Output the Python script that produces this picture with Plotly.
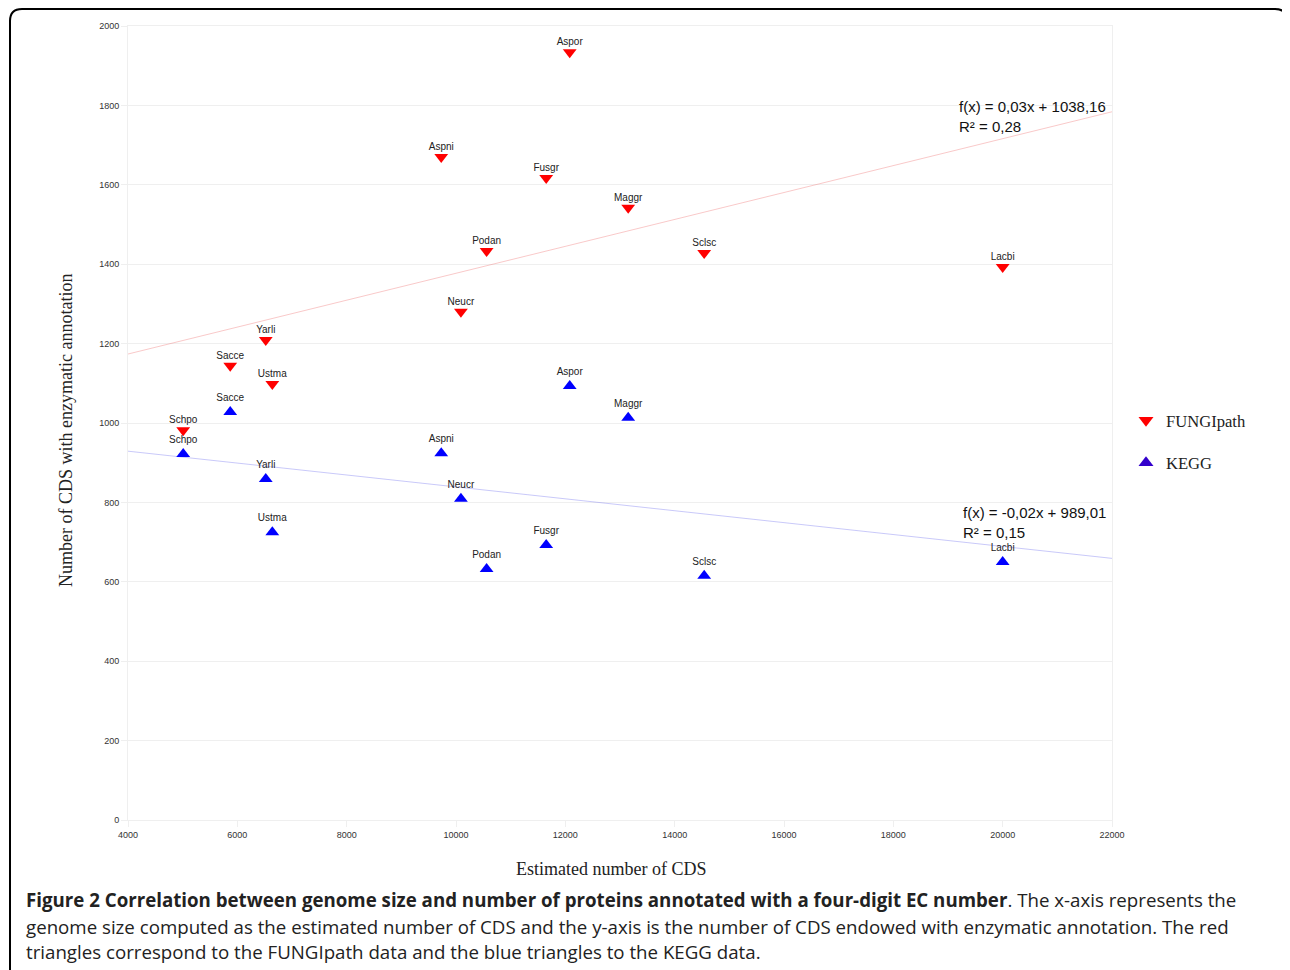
import plotly.graph_objects as go

# ---- data ----
species = ["Schpo", "Sacce", "Yarli", "Ustma", "Aspni", "Neucr",
           "Podan", "Fusgr", "Aspor", "Maggr", "Sclsc", "Lacbi"]
cds = [5010, 5870, 6520, 6640, 9730, 10090, 10560, 11650, 12080, 13150, 14540, 20000]
fungipath = [982, 1144, 1209, 1098, 1670, 1280, 1433, 1617, 1934, 1542, 1428, 1393]
kegg = [922, 1028, 859, 725, 924, 809, 632, 693, 1093, 1013, 615, 650]

fungipath_fit = [0.0339, 1038.16]   # slope, intercept
kegg_fit = [-0.0150, 989.01]
fit_x = [4000, 22000]

x_ticks = [4000, 6000, 8000, 10000, 12000, 14000, 16000, 18000, 20000, 22000]
y_ticks = [0, 200, 400, 600, 800, 1000, 1200, 1400, 1600, 1800, 2000]

eq_fungipath = "f(x) = 0,03x + 1038,16<br>R² = 0,28"
eq_kegg = "f(x) = -0,02x + 989,01<br>R² = 0,15"

caption_lines = [
    "<b>Figure 2 Correlation between genome size and number of proteins annotated with a four-digit EC number</b>. The x-axis represents the",
    "genome size computed as the estimated number of CDS and the y-axis is the number of CDS endowed with enzymatic annotation. The red",
    "triangles correspond to the FUNGIpath data and the blue triangles to the KEGG data.",
]

# ---- figure geometry (screen pixels; page has an 8px body margin) ----
OFF = 8
W, H = 1290 - OFF, 970 - OFF
L, T = 128 - OFF, 26 - OFF
R = W - (1112 - OFF)
B = H - (820 - OFF)
pw, ph = W - L - R, H - T - B


def px_x(p):
    return (p - OFF - L) / pw


def px_y(p):
    return (H - B - (p - OFF)) / ph


fig = go.Figure()

# trend lines
fig.add_trace(go.Scatter(
    x=fit_x, y=[fungipath_fit[0] * v + fungipath_fit[1] for v in fit_x],
    mode="lines", line=dict(color="rgba(240,120,120,0.4)", width=1),
    showlegend=False, hoverinfo="skip"))
fig.add_trace(go.Scatter(
    x=fit_x, y=[kegg_fit[0] * v + kegg_fit[1] for v in fit_x],
    mode="lines", line=dict(color="rgba(120,120,240,0.4)", width=1),
    showlegend=False, hoverinfo="skip"))

label_font = dict(family="Liberation Sans, Arial", size=10, color="#222")

# FUNGIpath labels (placed via an invisible small marker) + markers
fig.add_trace(go.Scatter(
    x=cds, y=fungipath, mode="markers+text", text=species,
    textposition="top center", textfont=label_font,
    marker=dict(size=6, opacity=0, color="#ff0000"),
    showlegend=False, hoverinfo="skip"))
fig.add_trace(go.Scatter(
    x=cds, y=fungipath, mode="markers",
    marker=dict(symbol="triangle-down", size=12, color="#ff0000"),
    showlegend=False))
fig.add_trace(go.Scatter(
    x=cds, y=kegg, mode="markers+text", text=species,
    textposition="top center", textfont=label_font,
    marker=dict(symbol="triangle-up", size=12, color="#0000ff"),
    showlegend=False))

# legend entries
fig.add_trace(go.Scatter(
    x=[None], y=[None], mode="markers", name="FUNGIpath", legendgroup="a",
    marker=dict(symbol="triangle-down", size=13, color="#ff0000")))
fig.add_trace(go.Scatter(
    x=[None], y=[None], mode="markers", name="KEGG", legendgroup="b",
    marker=dict(symbol="triangle-up", size=13, color="#3300cc")))

tick_font = dict(family="Liberation Sans, Arial", size=9, color="#333")
grid = "#efefef"

fig.update_xaxes(
    range=[4000, 22000], tickvals=x_ticks, ticktext=[str(v) for v in x_ticks],
    showgrid=False, zeroline=False, showline=True, linecolor=grid, linewidth=1,
    mirror=True, ticks="outside", ticklen=6, tickcolor=grid, tickfont=tick_font)
fig.update_yaxes(
    range=[0, 2000], tickvals=y_ticks, ticktext=[str(v) for v in y_ticks],
    showgrid=True, gridcolor=grid, gridwidth=1, zeroline=False,
    showline=True, linecolor=grid, linewidth=1, mirror=True,
    ticks="outside", ticklen=6, tickcolor=grid, tickfont=tick_font)

annotations = [
    dict(x=19170, y=1824, xref="x", yref="y", text=eq_fungipath, showarrow=False,
         xanchor="left", yanchor="top", align="left",
         font=dict(family="Liberation Sans, Arial", size=15, color="#111")),
    dict(x=19240, y=801, xref="x", yref="y", text=eq_kegg, showarrow=False,
         xanchor="left", yanchor="top", align="left",
         font=dict(family="Liberation Sans, Arial", size=15, color="#111")),
    dict(x=px_x(611), y=px_y(869), xref="paper", yref="paper",
         text="Estimated number of CDS", showarrow=False,
         xanchor="center", yanchor="middle",
         font=dict(family="Liberation Serif, Times New Roman", size=18, color="#222")),
    dict(x=px_x(66), y=px_y(431), xref="paper", yref="paper",
         text="Number of CDS with enzymatic annotation", showarrow=False,
         textangle=-90, xanchor="center", yanchor="middle",
         font=dict(family="Liberation Serif, Times New Roman", size=18, color="#222")),
]
for line, yc in zip(caption_lines, [899, 926, 952]):
    annotations.append(dict(
        x=px_x(24), y=px_y(yc), xref="paper", yref="paper", text=line,
        showarrow=False, xanchor="left", yanchor="middle", align="left",
        font=dict(family="Open Sans", size=18.7, color="#222")))

# rounded border
x0, x1 = px_x(10), px_x(1287)
yt, yb = px_y(9), px_y(1000)
rx, ry = 12 / pw, 12 / ph
path = (f"M {x0},{yb} L {x0},{yt - ry} Q {x0},{yt} {x0 + rx},{yt} "
        f"L {x1 - rx},{yt} Q {x1},{yt} {x1},{yt - ry} L {x1},{yb}")

fig.update_layout(
    width=W, height=H,
    margin=dict(l=L, r=R, t=T, b=B, autoexpand=False),
    plot_bgcolor="white", paper_bgcolor="white",
    annotations=annotations,
    shapes=[dict(type="path", path=path, xref="paper", yref="paper",
                 line=dict(color="black", width=2), layer="above")],
    legend=dict(x=px_x(1126), y=px_y(403), xanchor="left", yanchor="top",
                font=dict(family="Liberation Serif, Times New Roman", size=16.6, color="#222"),
                tracegroupgap=18, bgcolor="rgba(0,0,0,0)"),
)

fig.write_html("out.html")
